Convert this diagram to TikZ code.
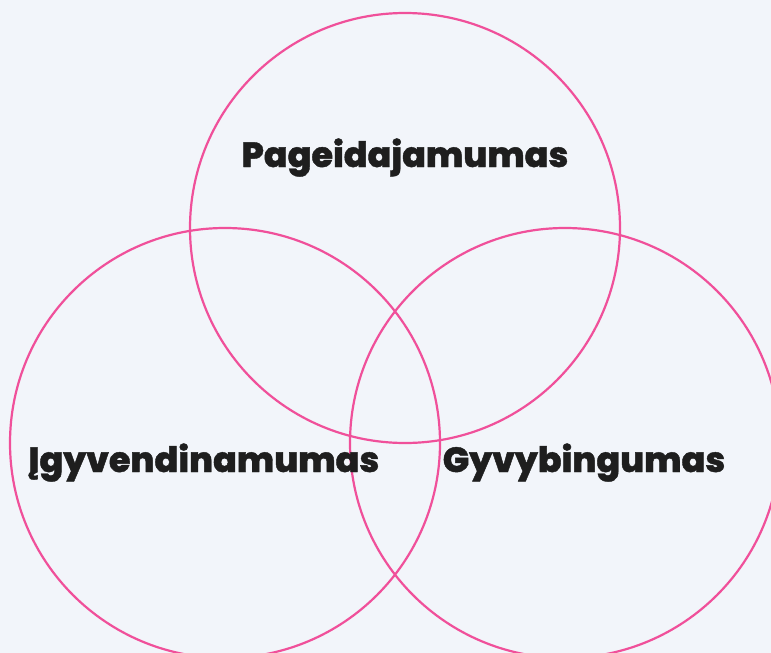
\documentclass[tikz,border=0pt]{standalone}
\usepackage{fontspec}
\setmainfont{Poppins}
\newfontfamily\heavyfont{Poppins ExtraBold}[FakeBold=1.2]
\usepackage{xcolor}
\usetikzlibrary{positioning}
\definecolor{bgpale}{HTML}{F2F5FA}
\definecolor{ringpink}{HTML}{F0509A}
\definecolor{labelink}{HTML}{1E1E1E}
\tikzset{
  % Venn styles
  ring/.style={circle, draw=ringpink, line width=2.2pt, minimum size=430pt, inner sep=0pt},
  ringlabel/.style={font=\heavyfont\fontsize{35}{40}\selectfont, text=labelink, anchor=base, inner sep=0pt},
}
\begin{document}
\begin{tikzpicture}[x=1pt, y=-1pt]
    % Canvas
    \fill[bgpale] (0,0) rectangle (771,653);
    \useasboundingbox (0,0) rectangle (771,653);
    \clip (0,0) rectangle (771,653);

    % Rings
    \node[ring] (desire) at (405,228) {};
    \node[ring] (feasible) at (225,443) {};
    \node[ring] (viable) at (565,443) {};

    % Labels
    \node[ringlabel] (desiretxt) at (405,167) {Pageidajamumas};
    \node[ringlabel] (feasibletxt) at (204,472) {Įgyvendinamumas};
    \node[ringlabel] (viabletxt) at (584,472) {Gyvybingumas};
\end{tikzpicture}
\end{document}
